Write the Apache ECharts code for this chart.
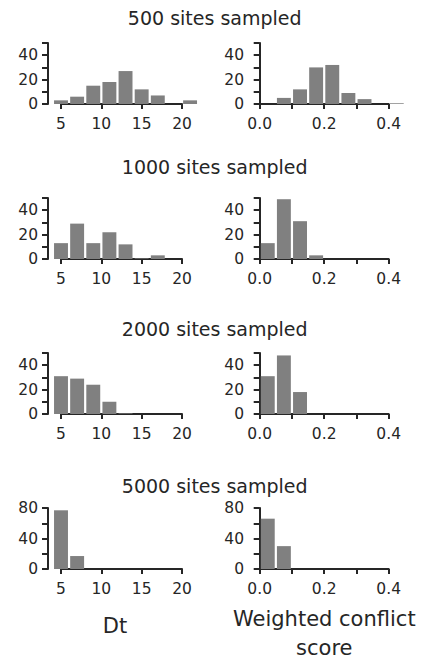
<!DOCTYPE html>
<html>
<head>
<meta charset="utf-8">
<script src="https://cdn.jsdelivr.net/npm/echarts/dist/echarts.min.js"></script>
<style>
html, body { margin: 0; padding: 0; background: #fff; }
#chart { width: 426px; height: 659px; }
</style>
</head>
<body>
<div id="chart"></div>
<script>
// histogram bin edges
const dtEdges = [4, 6, 8, 10, 12, 14, 16, 18, 20, 22]
const wcsEdges = [0, 0.05, 0.1, 0.15, 0.2, 0.25, 0.3, 0.35, 0.4, 0.45]

// bar heights per panel
const dt500 = [3, 6, 15, 18, 27, 12, 7, 0, 3]
const dt1000 = [13, 29, 13, 22, 12, 0.5, 3, 0, 0]
const dt2000 = [31, 29, 24, 10, 0.5, 0, 0, 0, 0]
const dt5000 = [77, 17, 0, 0, 0, 0, 0, 0, 0]
const wcs500 = [0, 5, 12, 30, 32, 9, 4, 0, 0.6]
const wcs1000 = [13, 49, 31, 3, 0, 0, 0, 0, 0]
const wcs2000 = [31, 48, 18, 0, 0, 0, 0, 0, 0]
const wcs5000 = [66, 30, 0, 0, 0, 0, 0, 0, 0]

const rowTitles = ["500 sites sampled", "1000 sites sampled", "2000 sites sampled", "5000 sites sampled"]
const rowYMax = [50, 50, 50, 80]
const rowYStep = [10, 10, 10, 20]
const rowYLabelStep = [20, 20, 20, 40]

const dtTickMin = 5, dtTickMax = 20, dtTickStep = 5
const wcsTickMin = 0, wcsTickMax = 0.4, wcsTickStep = 0.1

const dtRows = [dt500, dt1000, dt2000, dt5000]
const wcsRows = [wcs500, wcs1000, wcs2000, wcs5000]

const ink = "#262626"
const barColor = "#808080"

let myChart = echarts.init(document.getElementById("chart"), null, { renderer: "svg" })

let grid = [], xAxis = [], yAxis = [], series = []

// bar grid span (left/right) and trimmed spine span (sL/sR) for each column
const cols = [
    { left: 48, right: 210, sL: 61, sR: 182, tMin: dtTickMin, tMax: dtTickMax, step: dtTickStep, edges: dtEdges, rows: dtRows,
      fmt: v => String(v) },
    { left: 254, right: 414, sL: 259.7, sR: 388.7, tMin: wcsTickMin, tMax: wcsTickMax, step: wcsTickStep, edges: wcsEdges, rows: wcsRows,
      fmt: v => (Math.round(v * 10) % 2 === 0 ? v.toFixed(1) : "") }
]

function renderBar(params, api){
    let p0 = api.coord([api.value(0), api.value(2)])
    let p1 = api.coord([api.value(1), 0])
    return {
        type: "rect",
        shape: { x: p0[0] + 1.1, y: p0[1], width: p1[0] - p0[0] - 2.2, height: p1[1] - p0[1] },
        style: { fill: barColor }
    }
}

for (let r = 0; r < 4; r++){
    let top = 43 + 155 * r
    let height = 61
    cols.forEach(c => {
        let k = (c.sR - c.sL) / (c.tMax - c.tMin)
        // bars grid
        let gi = grid.length
        grid.push({ left: c.left, top: top, width: c.right - c.left, height: height, containLabel: false, outerBoundsMode: "none" })
        xAxis.push({
            type: "value", gridIndex: gi, show: false,
            min: c.tMin - (c.sL - c.left) / k, max: c.tMin + (c.right - c.sL) / k
        })
        let lblStep = rowYLabelStep[r]
        yAxis.push({
            type: "value", gridIndex: gi, min: 0, max: rowYMax[r], interval: rowYStep[r],
            axisLine: { show: true, lineStyle: { color: ink, width: 2 } },
            axisTick: { show: true, length: 6, lineStyle: { color: ink, width: 2 } },
            axisLabel: { margin: 10, color: ink, fontSize: 15.5, fontFamily: "DejaVu Sans",
                formatter: v => (v % lblStep === 0 ? String(v) : "") },
            splitLine: { show: false }
        })
        let data = []
        c.rows[r].forEach((v, i) => { if (v > 0) data.push([c.edges[i], c.edges[i + 1], v]) })
        series.push({
            type: "custom", xAxisIndex: gi, yAxisIndex: gi,
            encode: { x: [0, 1], y: 2 },
            renderItem: renderBar, data: data, silent: true
        })

        // trimmed x spine grid
        let si = grid.length
        grid.push({ left: c.sL, top: top, width: c.sR - c.sL, height: height, containLabel: false, outerBoundsMode: "none" })
        xAxis.push({
            type: "value", gridIndex: si, min: c.tMin, max: c.tMax, interval: c.step, offset: 4,
            axisLine: { show: true, lineStyle: { color: ink, width: 2 } },
            axisTick: { show: true, length: 5, lineStyle: { color: ink, width: 2 } },
            axisLabel: { margin: 8, color: ink, fontSize: 15.5, fontFamily: "DejaVu Sans", formatter: c.fmt },
            splitLine: { show: false }
        })
        yAxis.push({ type: "value", gridIndex: si, show: false, min: 0, max: 1 })
    })
}

let graphic = rowTitles.map((t, r) => ({
    type: "text", x: 214.7, y: [18, 167, 329, 486][r],
    style: { text: t, fill: ink, font: "19px 'DejaVu Sans'", align: "center", verticalAlign: "middle" }
}))
graphic.push({
    type: "text", x: 115, y: 626,
    style: { text: "Dt", fill: ink, font: "21px 'DejaVu Sans'", align: "center", verticalAlign: "middle" }
})
graphic.push({
    type: "text", x: 324.3, y: 633,
    style: { text: "Weighted conflict\nscore", fill: ink, font: "21px 'DejaVu Sans'", lineHeight: 29, align: "center", verticalAlign: "middle" }
})

myChart.setOption({
    animation: false,
    grid: grid,
    xAxis: xAxis,
    yAxis: yAxis,
    series: series,
    graphic: graphic
})
</script>
</body>
</html>
